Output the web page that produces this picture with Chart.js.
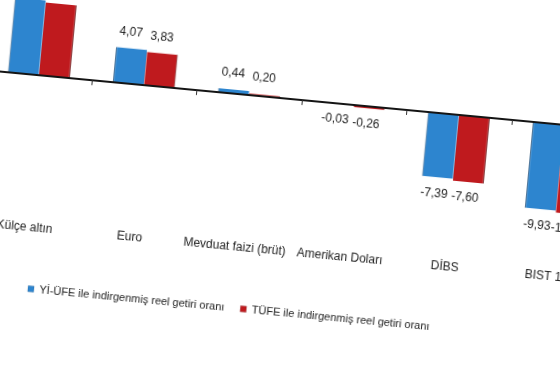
<!DOCTYPE html>
<html>
<head>
<meta charset="utf-8">
<script src="https://cdn.jsdelivr.net/npm/chart.js@4.4.0/dist/chart.umd.min.js"></script>
<style>
  html, body { margin: 0; padding: 0; background: #ffffff; overflow: hidden; width: 560px; height: 380px; }
  #wrap { position: absolute; left: -62.8px; top: -66.9px; width: 705px; height: 361px;
          transform-origin: 0 0; transform: rotate(5.4deg); }
</style>
</head>
<body>
<div id="wrap"><canvas id="c" width="705" height="361"></canvas></div>
<script>
const categories = ['Külçe altın', 'Euro', 'Mevduat faizi (brüt)', 'Amerikan Doları', 'DİBS', 'BIST 100'];
const yiufeValues = [8.6, 4.07, 0.44, -0.03, -7.39, -9.93];
const tufeValues = [8.37, 3.83, 0.20, -0.26, -7.60, -10.14];
const seriesNames = ['Yİ-ÜFE ile indirgenmiş reel getiri oranı', 'TÜFE ile indirgenmiş reel getiri oranı'];
const yMin = -16, yMax = 14;

const FONT = "'Liberation Sans', Arial, sans-serif";

const fmt = v => v.toFixed(2).replace('.', ',');

const zeroLinePlugin = {
  id: 'zeroLine',
  afterDatasetsDraw(chart) {
    const {ctx, chartArea, scales: {x, y}} = chart;
    const y0 = y.getPixelForValue(0);
    ctx.save();
    ctx.strokeStyle = '#141414';
    ctx.lineWidth = 2;
    ctx.beginPath();
    ctx.moveTo(chartArea.left, y0);
    ctx.lineTo(chartArea.right, y0);
    ctx.stroke();
    ctx.lineWidth = 1;
    ctx.strokeStyle = '#333';
    const n = chart.data.labels.length;
    for (let i = 0; i < n - 1; i++) {
      const bx = Math.round((x.getPixelForValue(i) + x.getPixelForValue(i + 1)) / 2) + 0.5;
      ctx.beginPath();
      ctx.moveTo(bx, y0);
      ctx.lineTo(bx, y0 + 5);
      ctx.stroke();
    }
    ctx.restore();
  }
};

const valueLabelPlugin = {
  id: 'valueLabels',
  afterDatasetsDraw(chart) {
    const {ctx} = chart;
    ctx.save();
    ctx.font = '12px ' + FONT;
    ctx.fillStyle = '#222';
    ctx.textAlign = 'center';
    ctx.textBaseline = 'middle';
    chart.data.datasets.forEach((ds, di) => {
      const meta = chart.getDatasetMeta(di);
      meta.data.forEach((el, i) => {
        const v = ds.data[i];
        const ty = v >= 0 ? el.y - 16 : el.y + 16;
        ctx.fillText(fmt(v), el.x - 2, ty);
      });
    });
    ctx.restore();
  }
};

const legendShiftPlugin = {
  id: 'legendShift',
  afterLayout(chart) {
    const l = chart.legend;
    if (l) { l.left += 46; l.right += 46; }
  }
};

new Chart(document.getElementById('c'), {
  type: 'bar',
  data: {
    labels: categories,
    datasets: [
      { label: seriesNames[0], data: yiufeValues, backgroundColor: '#2d85cf',
        borderColor: '#1f4f7c', borderWidth: { left: 1, top: 0, right: 0, bottom: 0 }, borderSkipped: false },
      { label: seriesNames[1], data: tufeValues, backgroundColor: '#bf1a1e',
        borderColor: '#6a1012', borderWidth: { left: 0, top: 0, right: 1, bottom: 0 }, borderSkipped: false }
    ]
  },
  options: {
    responsive: false,
    animation: false,
    devicePixelRatio: 1,
    layout: { padding: { left: 62, right: 10, top: 10, bottom: 0 } },
    datasets: { bar: { categoryPercentage: 0.59, barPercentage: 1.0 } },
    scales: {
      x: {
        grid: { display: false, drawTicks: false },
        border: { display: false },
        ticks: { font: { family: FONT, size: 12 }, color: '#222', padding: 6, maxRotation: 0, minRotation: 0, autoSkip: false },
        title: { display: true, text: '', font: { size: 10 }, padding: { top: 14.4, bottom: 0 } }
      },
      y: {
        display: false,
        min: yMin,
        max: yMax
      }
    },
    plugins: {
      legend: {
        position: 'bottom',
        align: 'start',
        labels: { boxWidth: 6, boxHeight: 6, font: { family: FONT, size: 11 }, color: '#222', padding: 16 }
      },
      tooltip: { enabled: false }
    }
  },
  plugins: [zeroLinePlugin, valueLabelPlugin, legendShiftPlugin]
});
</script>
</body>
</html>
